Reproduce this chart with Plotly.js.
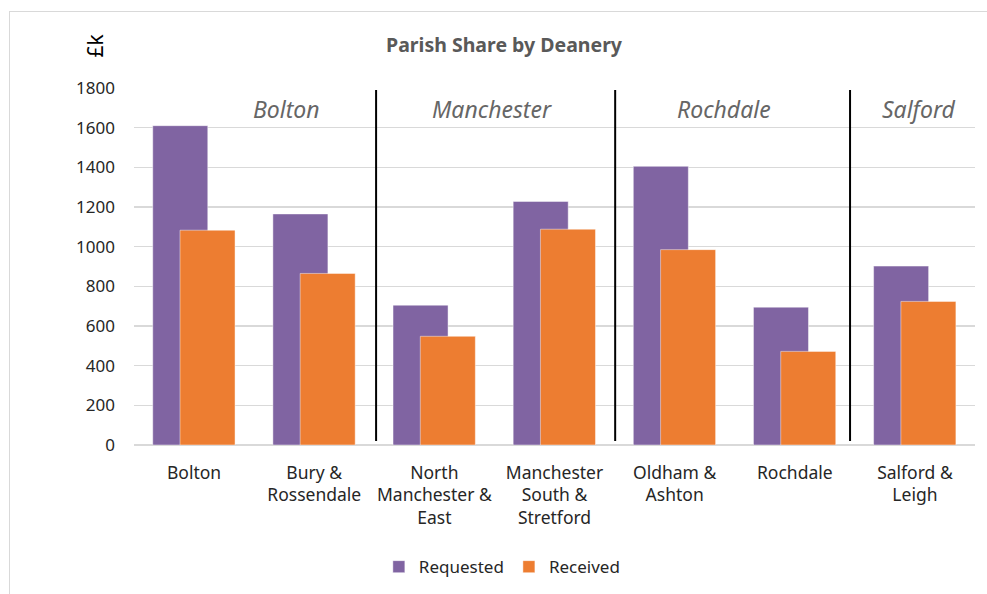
<!DOCTYPE html>
<html>
<head>
<meta charset="utf-8">
<script src="https://cdn.plot.ly/plotly-3.0.1.min.js"></script>
<style>
  html, body { margin: 0; padding: 0; background: #fff; }
  #chart { width: 987px; height: 594px; }
  #frame { position: absolute; left: 9px; top: 11px; width: 1000px; height: 620px; border: 1.5px solid #d9d9d9; pointer-events: none; }
</style>
</head>
<body>
<div id="chart"></div>
<div id="frame"></div>
<script>
const categories = [
  "Bolton",
  "Bury &<br>Rossendale",
  "North<br>Manchester &<br>East",
  "Manchester<br>South &<br>Stretford",
  "Oldham &<br>Ashton",
  "Rochdale",
  "Salford &<br>Leigh"
];
const requested = [1610, 1165, 705, 1228, 1405, 695, 902];
const received  = [1083, 865, 548, 1088, 985, 472, 724];
const deaneries = ["Bolton", "Manchester", "Rochdale", "Salford"];
const deaneryLabelX = [0.77, 2.48, 4.41, 6.03];
const dividerX = [1.515, 3.505, 5.46];
const yTicks = [0, 200, 400, 600, 800, 1000, 1200, 1400, 1600, 1800];

const font = "Noto Sans, Open Sans, sans-serif";
const xIdx = categories.map((_, i) => i);

const traces = [
  {
    type: "bar", name: "Requested", x: xIdx, y: requested,
    offset: -0.344, width: 0.458,
    marker: { color: "#8064A2", line: { color: "rgba(255,255,255,0.45)", width: 1 } },
    hoverinfo: "y"
  },
  {
    type: "bar", name: "Received", x: xIdx, y: received,
    offset: -0.117, width: 0.458,
    marker: { color: "#ED7D31", line: { color: "rgba(255,255,255,0.45)", width: 1 } },
    hoverinfo: "y"
  }
];

const shapes = dividerX.map(x => ({
  type: "line", xref: "x", yref: "y", x0: x, x1: x, y0: 20, y1: 1790,
  line: { color: "#000", width: 2 }
}));

const annotations = deaneries.map((d, i) => ({
  text: d, x: deaneryLabelX[i], y: 1692, xref: "x", yref: "y",
  showarrow: false, font: { family: font, size: 23, color: "#666666", style: "italic" }
}));
annotations.push({
  text: "£k", xref: "paper", yref: "paper", x: -0.046, y: 1.12,
  xanchor: "center", yanchor: "middle",
  showarrow: false, textangle: -90, font: { family: font, size: 21, color: "#000" }
});

const layout = {
  width: 987, height: 594,
  margin: { l: 134, r: 12, t: 88, b: 149, autoexpand: false },
  paper_bgcolor: "#fff", plot_bgcolor: "#fff",
  barmode: "overlay",
  bargap: 0,
  title: { text: "<b>Parish Share by Deanery</b>", x: 0.44, xref: "paper", xanchor: "center", y: 0.924, yanchor: "middle",
           font: { family: font, size: 19.5, color: "#595959" } },
  xaxis: {
    range: [-0.5, 6.5], tickmode: "array", tickvals: xIdx, ticktext: categories,
    showgrid: false, zeroline: false, showline: false, ticks: "", ticklabelstandoff: 15,
    tickfont: { family: font, size: 17.5, color: "#262626" }, fixedrange: true, automargin: false
  },
  yaxis: {
    range: [0, 1800], tickmode: "array", tickvals: yTicks,
    showgrid: true, gridcolor: "#d9d9d9", gridwidth: 1.5,
    zeroline: true, zerolinecolor: "#d9d9d9", zerolinewidth: 1.5,
    showline: false, ticks: "", ticklabelstandoff: 18,
    tickfont: { family: font, size: 17, color: "#262626" }, fixedrange: true, automargin: false
  },
  legend: {
    orientation: "h", x: 0.438, xanchor: "center", y: -0.342, yanchor: "middle",
    font: { family: font, size: 17, color: "#262626" }, traceorder: "normal",
    itemwidth: 30
  },
  shapes: shapes,
  annotations: annotations
};

Plotly.newPlot("chart", traces, layout, { displayModeBar: false, staticPlot: true });
</script>
</body>
</html>
